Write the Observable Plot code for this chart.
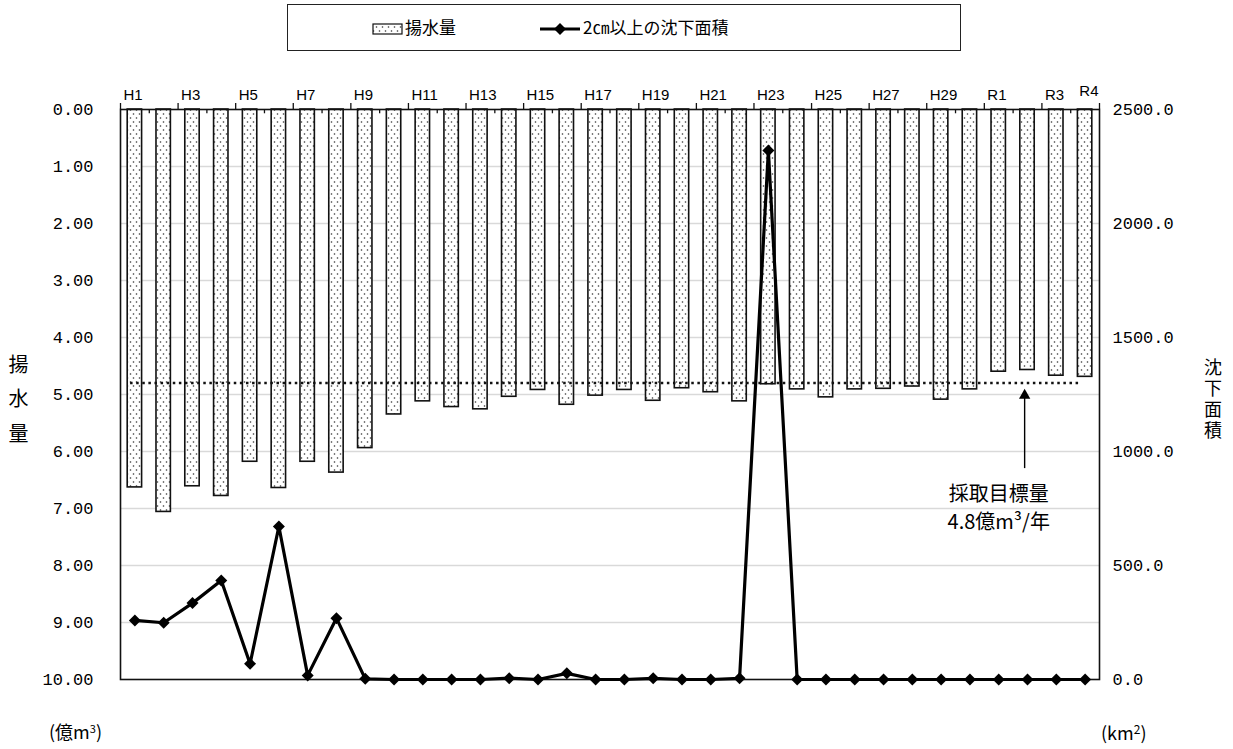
<!DOCTYPE html>
<html><head><meta charset="utf-8">
<script src="https://cdn.jsdelivr.net/npm/d3@7"></script>
<script src="https://cdn.jsdelivr.net/npm/@observablehq/plot@0.6"></script>
<style>
body{margin:0;background:#fff;}
#wrap{position:relative;width:1233px;height:749px;font-family:"Noto Sans CJK JP","Noto Sans",sans-serif;color:#000;overflow:hidden;}
#wrap svg.chart{position:absolute;left:0;top:0;}
.abs{position:absolute;white-space:nowrap;}
#legend{position:absolute;left:287px;top:4px;width:674px;height:47px;border:1.5px solid #222;box-sizing:border-box;}
.vt{position:absolute;writing-mode:vertical-rl;text-orientation:upright;white-space:nowrap;}
</style></head><body><div id="wrap"></div>
<script>
// ---- data ----
const years = ["H1","H2","H3","H4","H5","H6","H7","H8","H9","H10","H11","H12","H13","H14","H15","H16","H17","H18","H19","H20","H21","H22","H23","H24","H25","H26","H27","H28","H29","H30","R1","R2","R3","R4"];
const pumping = [6.63,7.06,6.61,6.78,6.18,6.64,6.18,6.37,5.94,5.35,5.12,5.22,5.26,5.04,4.92,5.18,5.02,4.92,5.11,4.89,4.96,5.12,4.82,4.91,5.05,4.91,4.90,4.86,5.09,4.91,4.60,4.57,4.67,4.69];
const subsidenceArea = [259,249,335,434,69,671,18,269,3,0,0,0,0,6,0,27,0,0,5,0,0,5,2320,0,0,0,0,0,0,0,0,0,0,0];
const xTickLabels = ["H1","H3","H5","H7","H9","H11","H13","H15","H17","H19","H21","H23","H25","H27","H29","R1","R3","R4"];
const leftTicks = [0,1,2,3,4,5,6,7,8,9,10];
const rightTicks = [0,500,1000,1500,2000,2500];
const targetPumping = 4.8;
const targetLabel = "採取目標量\n4.8億m³/年";

// ---- helpers ----
const n = years.length;
const rows = years.map((y, i) => ({year: y, i, pump: pumping[i], area: subsidenceArea[i]}));
const toLeft = v => 10 - v / 250;
const fromLeft = y => (10 - y) * 250;
const labelRows = xTickLabels.map((t, j) => {
  const idx = years.indexOf(t);
  const last = j === xTickLabels.length - 1;
  return {t, k: last ? idx + 1 : idx, last};
});
const majorK = d3.range(0, n + 1, 2);
const minorK = d3.range(1, n, 2);
const diamond = {draw(ctx, size){ const h = Math.sqrt(size / Math.PI); ctx.moveTo(0,-h); ctx.lineTo(h,0); ctx.lineTo(0,h); ctx.lineTo(-h,0); ctx.closePath(); }};

const mono = "'Liberation Mono','DejaVu Sans Mono',monospace";
const sans = "'Liberation Sans',Arial,sans-serif";

const svg = Plot.plot({
  width: 1233, height: 749,
  marginLeft: 120, marginRight: 134, marginTop: 109, marginBottom: 70,
  style: {fontFamily: "'Noto Sans CJK JP',sans-serif", fontSize: "15px", background: "transparent", overflow: "visible"},
  x: {type: "linear", domain: [0, n], axis: null},
  y: {domain: [0, 10], reverse: true, axis: null},
  marks: [
    Plot.ruleY(leftTicks.slice(1, -1), {stroke: "#d9d9d9", strokeWidth: 1.3}),
    Plot.rectY(rows, {x1: d => d.i + 0.25, x2: d => d.i + 0.75, y1: 0, y2: "pump", fill: "url(#dots)", stroke: "#111", strokeWidth: 1.6}),
    Plot.ruleY([targetPumping], {x1: 0.35, x2: n - 0.65, stroke: "#111", strokeWidth: 2.5, strokeDasharray: "2.5,3.6"}),
    Plot.frame({stroke: "#111", strokeWidth: 1.6}),
    Plot.ruleX(majorK, {x: d => d, y1: 0, y2: -0.105, stroke: "#111", strokeWidth: 1.3}),
    Plot.ruleX(minorK, {x: d => d, y1: 0, y2: 0.075, stroke: "#111", strokeWidth: 1.3}),
    Plot.text(labelRows.filter(d => !d.last), {x: "k", y: 0, text: "t", textAnchor: "start", dx: 3, dy: -14, fontSize: 15, fontFamily: sans}),
    Plot.text(labelRows.filter(d => d.last), {x: "k", y: 0, text: "t", textAnchor: "end", dx: -1, dy: -18, fontSize: 15, fontFamily: sans}),
    Plot.axisY(leftTicks, {anchor: "left", label: null, tickSize: 0, tickPadding: 27, tickFormat: d => d.toFixed(2), fontSize: 17, fontFamily: mono}),
    Plot.axisY(rightTicks.map(toLeft), {anchor: "right", label: null, tickSize: 0, tickPadding: 13, tickFormat: y => fromLeft(y).toFixed(1), fontSize: 17, fontFamily: mono}),
    Plot.line(rows, {x: d => d.i + 0.5, y: d => toLeft(d.area), stroke: "#000", strokeWidth: 3.2}),
    Plot.dot(rows, {x: d => d.i + 0.5, y: d => toLeft(d.area), symbol: diamond, r: 6, fill: "#000", stroke: "none"}),
    Plot.ruleX([31.4], {y1: 6.3, y2: 4.98, stroke: "#000", strokeWidth: 1.4}),
    Plot.dot([31.4], {x: d => d, y: 4.98, symbol: "triangle", r: 4.2, fill: "#000", stroke: "none", dy: 2}),
    Plot.text([targetLabel], {x: 30.5, y: 6.96, text: d => d, fontSize: 20, lineHeight: 1.4, textAnchor: "middle"})
  ]
});
svg.classList.add("chart");
const defs = document.createElementNS("http://www.w3.org/2000/svg", "defs");
defs.innerHTML = '<pattern id="dots" width="6" height="8" patternUnits="userSpaceOnUse"><rect width="6" height="8" fill="#fff"/><circle cx="1.5" cy="2" r="0.8" fill="#333"/><circle cx="4.5" cy="6" r="0.8" fill="#333"/></pattern>';
svg.insertBefore(defs, svg.firstChild);

const wrap = document.getElementById("wrap");
wrap.appendChild(svg);

// legend
const lg = document.createElement("div");
lg.id = "legend";
lg.innerHTML =
  '<svg width="674" height="47" style="position:absolute;left:0;top:0;overflow:visible">' +
  '<defs><pattern id="dots2" width="6" height="8" patternUnits="userSpaceOnUse"><rect width="6" height="8" fill="#fff"/><circle cx="1.5" cy="2" r="0.8" fill="#333"/><circle cx="4.5" cy="6" r="0.8" fill="#333"/></pattern></defs>' +
  '<rect x="85" y="19" width="29" height="10" fill="url(#dots2)" stroke="#111" stroke-width="1.2"/>' +
  '<line x1="252" x2="292" y1="24" y2="24" stroke="#000" stroke-width="3"/>' +
  '<path d="M272,18L278,24L272,30L266,24Z" fill="#000"/>' +
  '</svg>' +
  '<div class="abs" style="left:117px;top:10px;font-size:17px;line-height:24px">揚水量</div>' +
  '<div class="abs" style="left:295px;top:10px;font-size:17px;line-height:24px">2㎝以上の沈下面積</div>';
wrap.appendChild(lg);

// axis titles (single vertical texts)
function vertical(text, centerX, top, size, spacing) {
  const e = document.createElement("div");
  e.className = "vt";
  e.style.cssText += `left:${centerX - size / 2}px;top:${top}px;font-size:${size}px;line-height:${size}px;letter-spacing:${spacing}px;`;
  e.textContent = text;
  wrap.appendChild(e);
}
vertical("揚水量", 18, 354, 20, 14.5);
vertical("沈下面積", 1213, 358, 18, 3);

const u1 = document.createElement("div");
u1.className = "abs";
u1.style.cssText = "left:49px;top:716px;font-size:18px;line-height:24px;";
u1.innerHTML = '(億m<span style="font-size:11px;vertical-align:6px">3</span>)';
wrap.appendChild(u1);
const u2 = document.createElement("div");
u2.className = "abs";
u2.style.cssText = "left:1101px;top:717px;font-size:18px;line-height:24px;";
u2.innerHTML = '(km<span style="font-size:12px;vertical-align:6px">2</span>)';
wrap.appendChild(u2);
</script></body></html>
